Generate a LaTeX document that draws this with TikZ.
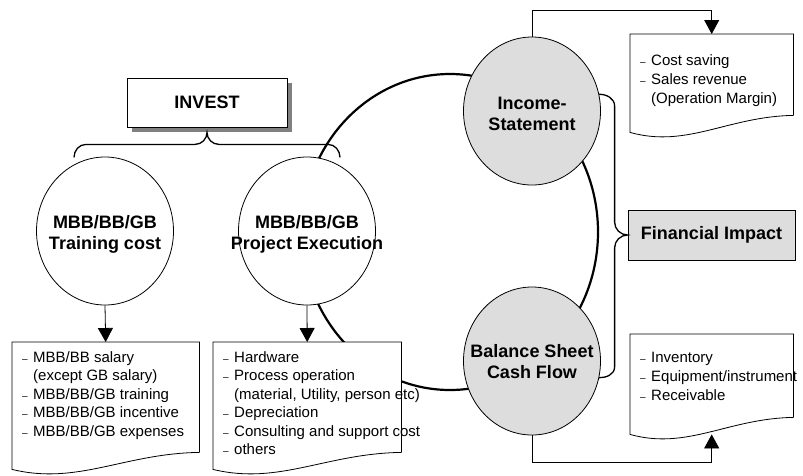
\documentclass[tikz,border=0pt]{standalone}
\usepackage{fontspec}
\setmainfont{Liberation Sans}
\usetikzlibrary{arrows.meta}
\usetikzlibrary{shapes.geometric}
\usetikzlibrary{shadows}
\usetikzlibrary{calc}

\definecolor{ballgray}{RGB}{221,221,221}
\definecolor{shadowgray}{RGB}{128,128,128}

\tikzset{
  ball/.style={ellipse, draw, line width=0.8pt, minimum width=137pt, minimum height=148pt, inner sep=0pt},
  balltext/.style={align=center, inner sep=0pt, font=\fontsize{18}{21}\selectfont\bfseries},
  listbox/.style={anchor=north west, inner sep=0pt},
  listtext/.style={anchor=north west, align=left, inner sep=0pt, font=\fontsize{15}{18.5}\selectfont},
  feed/.style={line width=0.8pt, -{Triangle[length=14pt,width=15pt]}},
  curly/.style={line width=1.3pt},
}

% item dash and indent of a follow-on line
\newcommand{\itm}{\makebox[11pt][l]{\fontsize{10}{10}\selectfont –}}
\newcommand{\cont}{\hspace*{11pt}}
% outline of a document box with a wavy bottom
\newcommand{\docshape}[1]{%
  \draw[line width=0.8pt, fill=white] (#1.south east) -- (#1.north east) -- (#1.north west)
    -- ($(#1.south west)+(0,17)$)
    .. controls ($(#1.south west)!0.35!(#1.south east)+(0,33)$) and ($(#1.south west)!0.6!(#1.south east)+(0,1)$) .. (#1.south east);}

\begin{document}
\begin{tikzpicture}[x=1pt,y=-1pt]
\useasboundingbox (0,0) rectangle (803,475);

% big loop behind the circles
\node[ellipse, draw, line width=2.2pt, minimum width=296pt, minimum height=316pt, inner sep=0pt] (ring) at (450,232) {};

% invest box and its brace
\node[draw, fill=white, line width=0.8pt, drop shadow={shadow xshift=5pt, shadow yshift=-5pt, fill=shadowgray, opacity=1},
  minimum width=160pt, minimum height=49pt, font=\fontsize{18}{21}\selectfont\bfseries] (invest) at (207,102.5) {INVEST};
\draw[curly] ($(invest.south)+(-133,30)$) to[out=90,in=180] ($(invest.south)+(-121,17)$)
  -- ($(invest.south)+(-12,17)$) to[out=0,in=-90] ($(invest.south)+(0,5)$)
  to[out=-90,in=180] ($(invest.south)+(12,17)$) -- ($(invest.south)+(121,17)$)
  to[out=0,in=90] ($(invest.south)+(133,30)$);

% cost circles
\node[ball, fill=white] (train) at (105,231) {};
\node[balltext] (traintxt) at ([yshift=-3pt]train.center) {MBB/BB/GB\\Training cost};
\node[ball, fill=white] (exec) at (307,231) {};
\node[balltext] (exectxt) at ([yshift=-3pt]exec.center) {MBB/BB/GB\\Project Execution};

% statement circles
\node[ball, fill=ballgray] (income) at (532,111) {};
\node[balltext] (incometxt) at ([yshift=-3pt]income.center) {Income-\\Statement};
\node[ball, fill=ballgray] (balance) at (532,361) {};
\node[balltext] (balancetxt) at ([yshift=-1pt]balance.center) {Balance Sheet\\Cash Flow};

% financial impact
\node[draw, fill=ballgray, line width=0.8pt, minimum width=167pt, minimum height=50pt,
  font=\fontsize{18}{21}\selectfont\bfseries] (fin) at (711.5,235) {Financial Impact};
\draw[curly] (income.14) to[out=0,in=90] ($(fin.west)+(-13,-129)$)
  -- ($(fin.west)+(-13,-13)$) to[out=-90,in=180] (fin.west)
  to[out=180,in=90] ($(fin.west)+(-13,13)$) -- ($(fin.west)+(-13,132)$)
  to[out=-90,in=0] (balance.-14);

% document boxes
\node[listbox, minimum width=187pt, minimum height=110pt] (trainlist) at (12,342) {};
\docshape{trainlist}
\node[listtext] (trainitems) at ($(trainlist.north west)+(10,9)$)
  {\itm MBB/BB salary\\ \cont(except GB salary)\\ \itm MBB/BB/GB training\\ \itm MBB/BB/GB incentive\\ \itm MBB/BB/GB expenses};

\node[listbox, minimum width=188pt, minimum height=110pt] (execlist) at (213,342) {};
\docshape{execlist}
\node[listtext] (execitems) at ($(execlist.north west)+(10,9)$)
  {\itm Hardware\\ \itm Process operation\\ \cont(material, Utility, person etc)\\ \itm Depreciation\\ \itm Consulting and support cost\\ \itm others};

\node[listbox, minimum width=163pt, minimum height=81pt] (incomelist) at (630,34) {};
\docshape{incomelist}
\node[listtext, font=\fontsize{15}{19}\selectfont] (incomeitems) at ($(incomelist.north west)+(10,20)$)
  {\itm Cost saving\\ \itm Sales revenue\\ \cont(Operation Margin)};

\node[listbox, minimum width=163pt, minimum height=83pt] (balancelist) at (630,334) {};
\docshape{balancelist}
\node[listtext, font=\fontsize{15}{19}\selectfont] (balanceitems) at ($(balancelist.north west)+(10,18)$)
  {\itm Inventory\\ \itm Equipment/instrument\\ \itm Receivable};

% arrows
\draw[feed] (train.south) -- (trainlist.north);
\draw[feed] (exec.south) -- (execlist.north);
\draw[feed] (income.north) -- ++(0,-26) -| (incomelist.north);
\coordinate (balwave) at ($(balancelist.south)+(0,17)$);
\draw[feed] (balance.south) -- ++(0,27) -| (balwave);

\end{tikzpicture}
\end{document}
